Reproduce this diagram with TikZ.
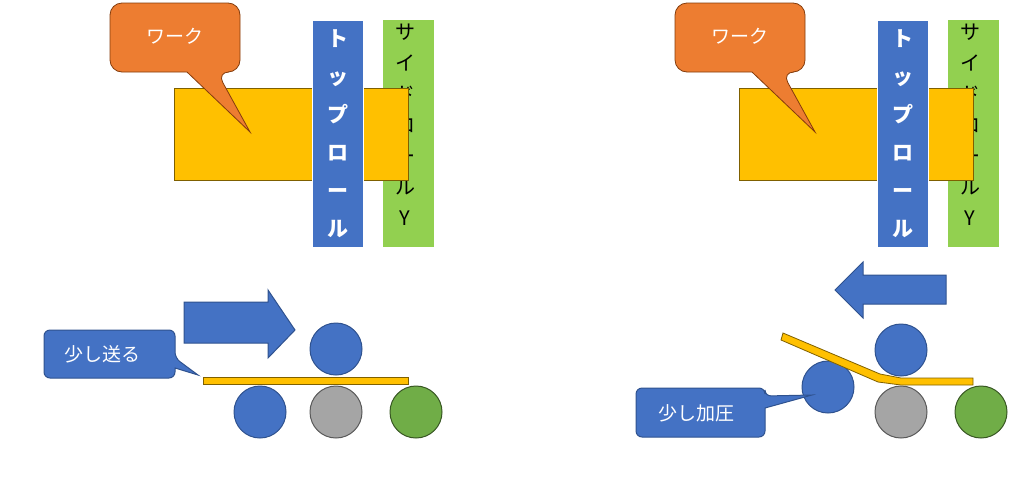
\documentclass[tikz,border=0pt]{standalone}
\usepackage{fontspec}
\setmainfont{Noto Sans CJK JP}
\usetikzlibrary{positioning}
\definecolor{workfill}{HTML}{FFC000}
\definecolor{workline}{HTML}{7F6000}
\definecolor{callorange}{HTML}{ED7D31}
\definecolor{calloline}{HTML}{843C0C}
\definecolor{rollblue}{HTML}{4472C4}
\definecolor{blueline}{HTML}{2F528F}
\definecolor{sidegreen}{HTML}{92D050}
\definecolor{rollgray}{HTML}{A5A5A5}
\definecolor{grayline}{HTML}{595959}
\definecolor{rollgreen}{HTML}{70AD47}
\definecolor{greenline}{HTML}{385723}
\tikzset{
  work/.style={fill=workfill, draw=workline, line width=0.8pt},
  toproll/.style={fill=rollblue, draw=white, line width=0.6pt, text=white, font=\bfseries\fontsize{21}{38}\selectfont, align=center, inner sep=0pt},
  sideroll/.style={text=black, font=\fontsize{20}{31}\selectfont, align=center, inner sep=0pt},
  roll/.style={circle, minimum size=52pt, inner sep=0pt, line width=1pt},
  bluecall/.style={fill=rollblue, draw=blueline, line width=1pt, rounded corners=6pt},
  label/.style={text=white, font=\fontsize{19}{22}\selectfont},
  bigarrow/.style={fill=rollblue, draw=blueline, line width=1pt}
}
\begin{document}
\begin{tikzpicture}[x=1pt, y=-1pt]
  \useasboundingbox (0,0) rectangle (1024,477);
  \foreach \dx/\p in {0/a, 565/b} {
    \begin{scope}[xshift=\dx pt]
      % rolls seen from above
      \fill[sidegreen] (383,20) rectangle (434,247);
      \node[sideroll, anchor=north] (side\p) at (405,24) {サ\\イ\\ド\\ロ\\ー\\ル\\Y};
      \draw[work] (174,88) rectangle (408,180);
      \node[toproll, minimum width=51pt, minimum height=227pt, anchor=north west] (top\p) at (312,20) {ト\\ッ\\プ\\ロ\\ー\\ル};
      % work callout
      \draw[fill=callorange, draw=calloline, line width=0.8pt, rounded corners=12pt]
        (110,3) -- (240,3) -- (240,72) -- (217,72) [sharp corners] -- (250,132) -- (187,72) [rounded corners=12pt] -- (110,72) -- cycle;
      \node[label] (work\p) at (175,36) {ワーク};
    \end{scope}
  }
  % left: feed a little
  \draw[bigarrow] (184,302) -- (268,302) -- (268,290) -- (295,330) -- (268,358) -- (268,343) -- (184,343) -- cycle;
  \draw[work] (203,377) rectangle (408,384);
  \node[roll, fill=rollblue, draw=blueline] (upa) at (336,349) {};
  \node[roll, fill=rollblue, draw=blueline] (lowa) at (260,412) {};
  \node[roll, fill=rollgray, draw=grayline] (mida) at (336,412) {};
  \node[roll, fill=rollgreen, draw=greenline] (rgta) at (416,412) {};
  \draw[bluecall] (44,330) -- (175,330) -- (175,358) [sharp corners] -- (198,375) -- (175,368) [rounded corners=6pt] -- (175,378) -- (44,378) -- cycle;
  \node[label] (feed) at (102,354) {少し送る};
  % right: press a little
  \draw[bigarrow] (946,275) -- (863,275) -- (863,262) -- (835,290) -- (863,318) -- (863,304) -- (946,304) -- cycle;
  \node[roll, fill=rollblue, draw=blueline] (upb) at (901,350) {};
  \node[roll, fill=rollgray, draw=grayline] (midb) at (901,412) {};
  \node[roll, fill=rollgreen, draw=greenline] (rgtb) at (981,412) {};
  \node[roll, fill=rollblue, draw=blueline] (pressb) at (828,387) {};
  \draw[work] (783,333) -- (880,374) -- (901,378) -- (973,378) -- (973,385) -- (901,385) -- (878,382) -- (781,340) -- cycle;
  \draw[bluecall] (636,388) -- (765,388) -- (765,396) [sharp corners] -- (812,395) -- (765,408) [rounded corners=6pt] -- (765,437) -- (636,437) -- cycle;
  \node[label] (press) at (696,413) {少し加圧};
\end{tikzpicture}
\end{document}
